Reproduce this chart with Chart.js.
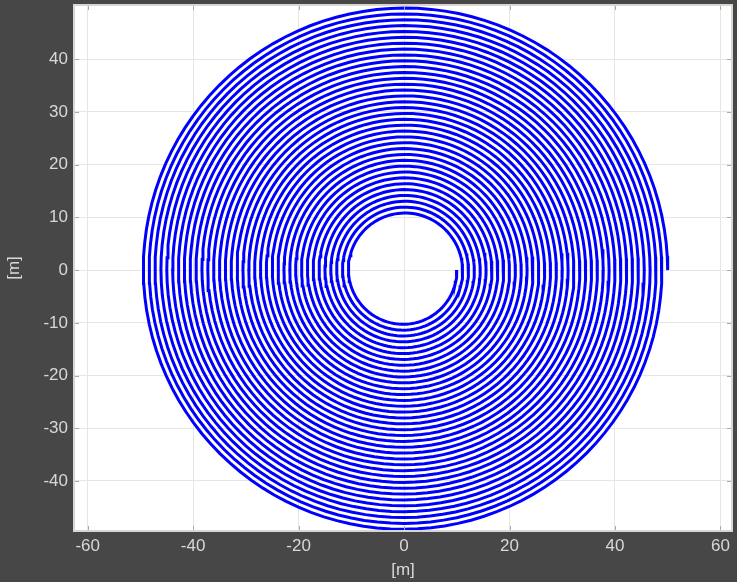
<!DOCTYPE html>
<html>
<head>
<meta charset="utf-8">
<script src="https://cdn.jsdelivr.net/npm/chart.js@4/dist/chart.umd.min.js"></script>
<style>
  html, body { margin: 0; padding: 0; background: #474747; }
  #wrap { width: 737px; height: 582px; }
</style>
</head>
<body>
<div id="wrap"><canvas id="spiralCanvas"></canvas></div>
<script>
/* ==========================================
   SPIRAL PLOT
   ========================================== */

// spiral: inner radius, outer radius [m], number of turns, samples per turn
const spiralRadius = [10, 50];
const spiralTurns = [36];
const samplesPerTurn = [120];

// axes
const xTicks = [-60, -40, -20, 0, 20, 40, 60];
const yTicks = [-40, -30, -20, -10, 0, 10, 20, 30, 40];
const xRange = [-62.6, 62.2];
const yRange = [-49.5, 50.3];
const axisTitles = ["[m]", "[m]"];

const TEXT = "#d8d8d8";
const FONT = { family: "'Liberation Sans', Arial, sans-serif", size: 17 };

/* clockwise Archimedean spiral, r grows linearly with angle */
function buildSpiral() {
  const pts = [];
  const n = spiralTurns[0] * samplesPerTurn[0];
  for (let i = 0; i <= n; i++) {
    const f = i / n;
    const r = spiralRadius[0] + (spiralRadius[1] - spiralRadius[0]) * f;
    const th = 2 * Math.PI * spiralTurns[0] * f;
    pts.push({ x: r * Math.cos(th), y: -r * Math.sin(th) });
  }
  return pts;
}

/* box frame + inward tick marks on all four sides */
const boxPlugin = {
  id: "box",
  afterDatasetsDraw(chart) {
    const { ctx, chartArea: a, scales } = chart;
    ctx.save();
    ctx.strokeStyle = "#a9a9a9";
    ctx.lineWidth = 1;
    ctx.beginPath();
    xTicks.forEach(v => {
      const px = Math.round(scales.x.getPixelForValue(v)) + 0.5;
      ctx.moveTo(px, a.bottom); ctx.lineTo(px, a.bottom - 5);
      ctx.moveTo(px, a.top); ctx.lineTo(px, a.top + 5);
    });
    yTicks.forEach(v => {
      const py = Math.round(scales.y.getPixelForValue(v)) + 0.5;
      ctx.moveTo(a.left, py); ctx.lineTo(a.left + 5, py);
      ctx.moveTo(a.right, py); ctx.lineTo(a.right - 5, py);
    });
    ctx.stroke();
    ctx.strokeStyle = "#d9d6cf";
    ctx.lineWidth = 2;
    ctx.strokeRect(a.left, a.top, a.right - a.left, a.bottom - a.top);
    ctx.restore();
  }
};

const whiteArea = {
  id: "whiteArea",
  beforeDraw(chart) {
    const { ctx, chartArea: a } = chart;
    ctx.save();
    ctx.fillStyle = "#ffffff";
    ctx.fillRect(a.left, a.top, a.right - a.left, a.bottom - a.top);
    ctx.restore();
  }
};

/* GRAPH */
const chart = new Chart(document.getElementById("spiralCanvas").getContext("2d"), {
  type: "line",
  data: {
    datasets: [{
      data: buildSpiral(),
      borderColor: "#0000ff",
      borderWidth: 3,
      pointRadius: 0,
      fill: false,
      tension: 0
    }]
  },
  options: {
    responsive: true,
    maintainAspectRatio: false,
    animation: false,
    parsing: false,
    layout: { padding: { top: 5, right: 5, left: 0, bottom: 0 } },
    plugins: { legend: { display: false }, tooltip: { enabled: false } },
    scales: {
      x: {
        type: "linear",
        min: xRange[0], max: xRange[1],
        afterBuildTicks: s => { s.ticks = xTicks.map(v => ({ value: v })); },
        afterFit: s => { s.height = 51; s.paddingLeft = 0; s.paddingRight = 0; },
        grid: { color: "#e6e6e6", drawTicks: false },
        border: { display: false },
        ticks: { color: TEXT, font: FONT, padding: 5, maxRotation: 0 },
        title: { display: true, text: axisTitles[0], color: TEXT, font: FONT, padding: { top: 0, bottom: 1 } }
      },
      y: {
        type: "linear",
        min: yRange[0], max: yRange[1],
        afterBuildTicks: s => { s.ticks = yTicks.map(v => ({ value: v })); },
        afterFit: s => { s.width = 74; s.paddingTop = 0; s.paddingBottom = 0; },
        grid: { color: "#e6e6e6", drawTicks: false },
        border: { display: false },
        ticks: { color: TEXT, font: FONT, padding: 6 },
        title: { display: true, text: axisTitles[1], color: TEXT, font: FONT, padding: { top: 4, bottom: 0 } }
      }
    }
  },
  plugins: [whiteArea, boxPlugin]
});
</script>
</body>
</html>
